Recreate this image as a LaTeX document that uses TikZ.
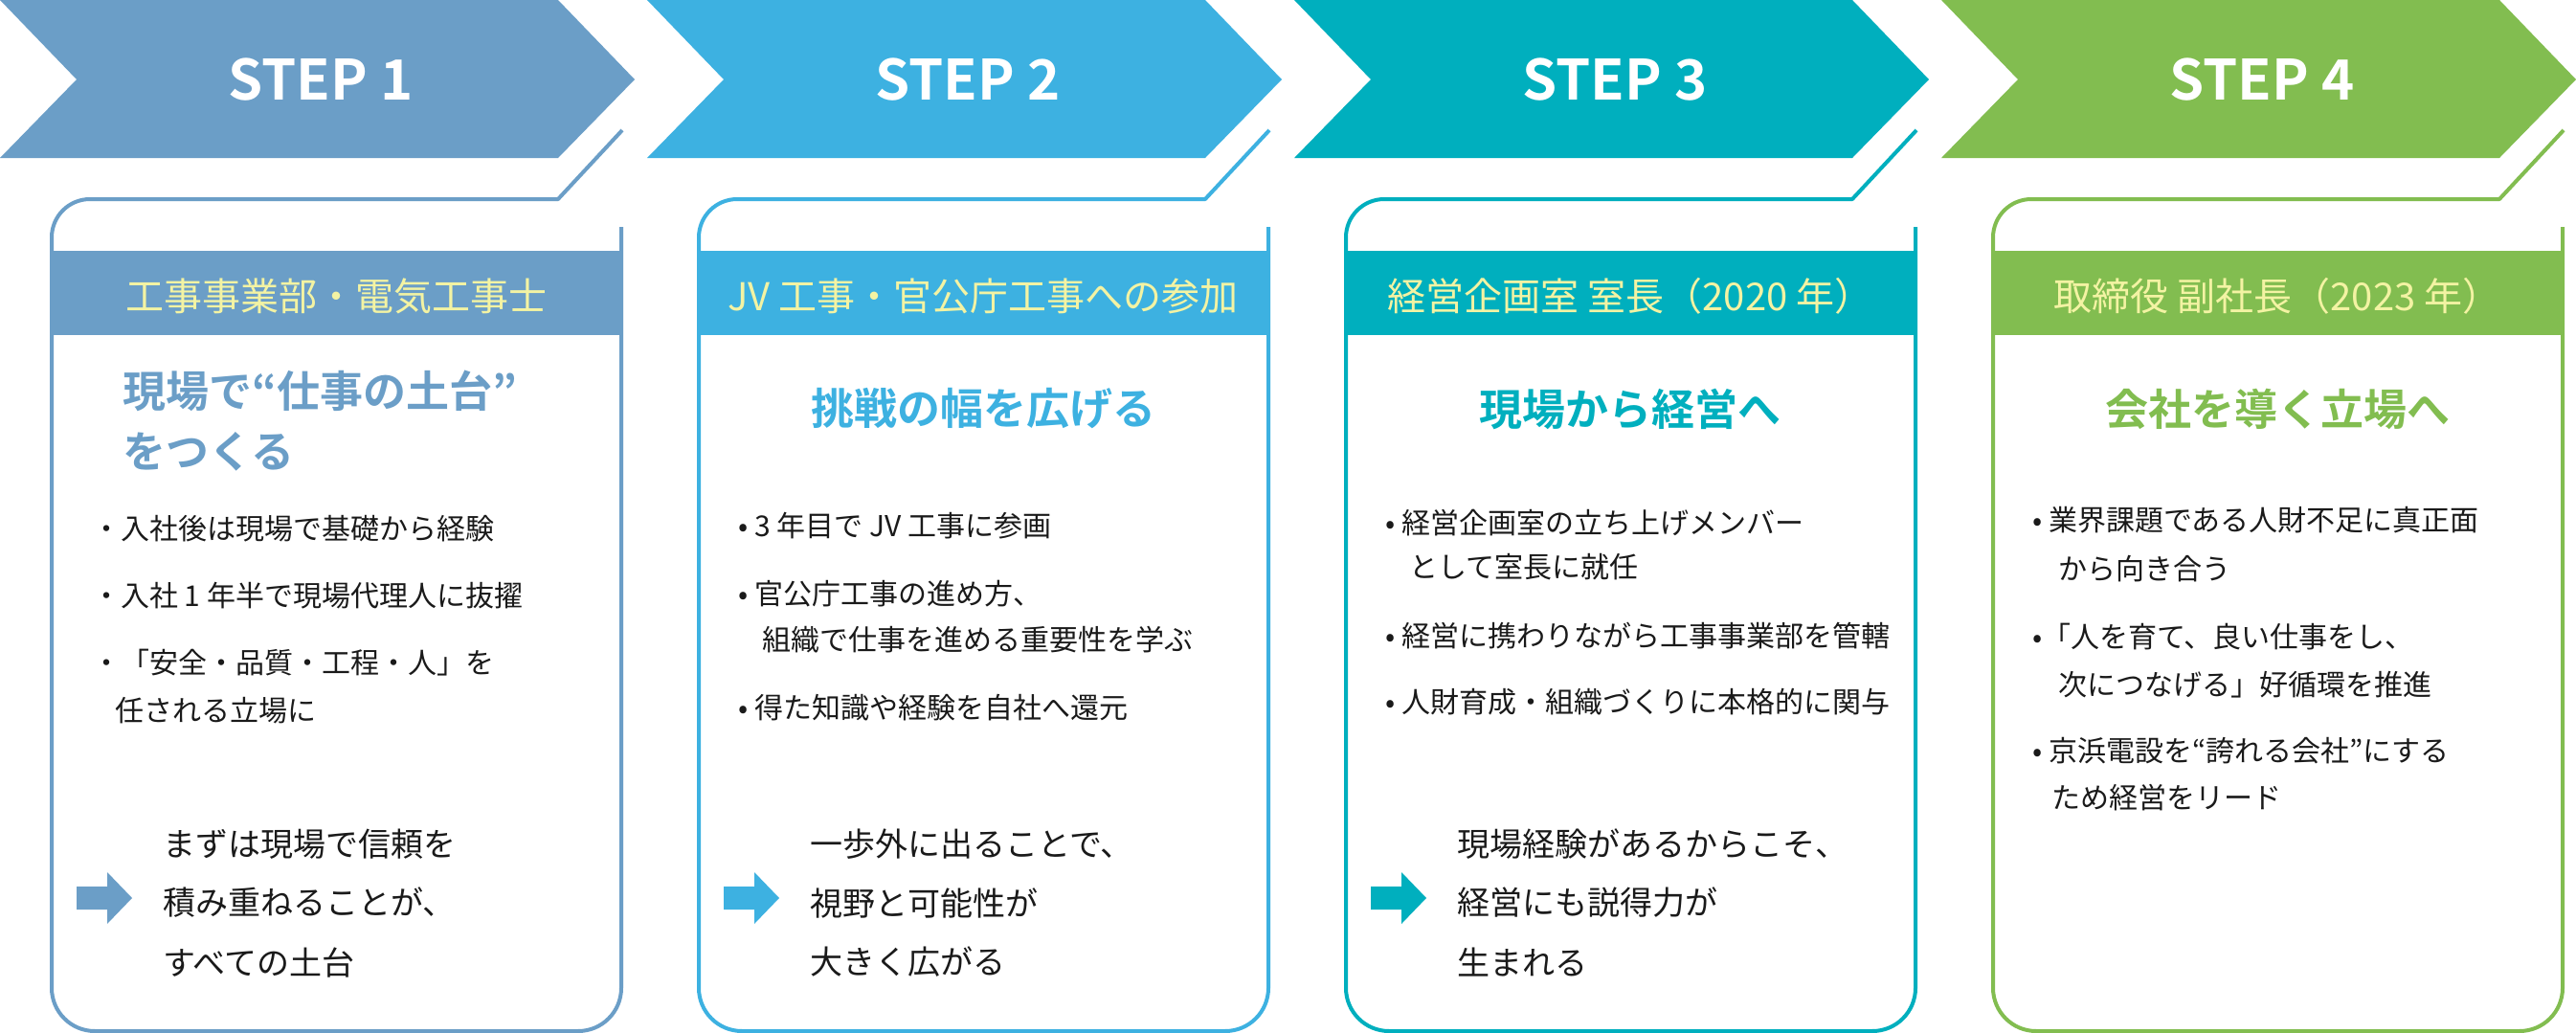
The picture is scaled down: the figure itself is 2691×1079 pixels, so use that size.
\documentclass[tikz,border=0pt]{standalone}
\usepackage{fontspec}
\setmainfont{Noto Sans CJK JP}[BoldFont={Noto Sans CJK JP Bold}]
\definecolor{cA}{HTML}{6B9EC7}
\definecolor{cB}{HTML}{3DB1E1}
\definecolor{cC}{HTML}{00AFBE}
\definecolor{cD}{HTML}{82BD50}
\definecolor{hy}{HTML}{F3F3A3}
\definecolor{tx}{HTML}{1A1A1A}
\begin{document}
\begin{tikzpicture}[x=1pt,y=-1pt,
  chev/.style={fill=#1,draw=none},
  steplbl/.style={font=\fontsize{58}{60}\selectfont\bfseries,text=white,inner sep=0},
  card/.style={draw=#1,line width=4pt,line join=round},
  head/.style={font=\fontsize{40}{44}\selectfont,text=hy,inner sep=0},
  ttl/.style={font=\fontsize{45}{50}\selectfont\bfseries,text=#1,inner sep=0},
  bul/.style={font=\fontsize{30}{34}\selectfont,text=tx,inner sep=0,anchor=west},
  fin/.style={font=\fontsize{34}{38}\selectfont,text=tx,inner sep=0,anchor=west},
  arr/.style={fill=#1,draw=none}]
\useasboundingbox (0,0) rectangle (2691,1079);
\fill[white] (0,0) rectangle (2691,1079);

\newcommand{\stepframe}[3]{%
\begin{scope}[xshift=#1]
\fill[chev=#2] (0,0) -- (583,0) -- (663,83) -- (583,165) -- (0,165) -- (80,83) -- cycle;
\node[steplbl] (s#3) at (335,83) {STEP #3};
\fill[#2] (54,262) rectangle (649,350);
\draw[card=#2] (649,237) -- (649,1032) arc[start angle=0,end angle=90,radius=45] -- (99,1077)
  arc[start angle=90,end angle=180,radius=45] -- (54,248) arc[start angle=180,end angle=270,radius=40]
  -- (583,208) -- (650,136);
\end{scope}}
\newcommand{\steparrow}[2]{%
\begin{scope}[xshift=#1]
\fill[arr=#2] (80,926) -- (112,926) -- (112,911) -- (138,938) -- (112,965) -- (112,950) -- (80,950) -- cycle;
\end{scope}}

\stepframe{0}{cA}{1}
\stepframe{676}{cB}{2}
\stepframe{1352}{cC}{3}
\stepframe{2028}{cD}{4}
\steparrow{0}{cA}\steparrow{676}{cB}\steparrow{1352}{cC}

% Step 1
\node[head] (h1) at (351,309) {工事事業部・電気工事士};
\node[ttl=cA,anchor=west] (t1a) at (128,408) {現場で“仕事の土台”};
\node[ttl=cA,anchor=west] (t1b) at (128,472) {をつくる};
\node[bul] (b1a) at (96,552) {・入社後は現場で基礎から経験};
\node[bul] (b1b) at (96,622) {・入社 1 年半で現場代理人に抜擢};
\node[bul] (b1c) at (96,692) {・「安全・品質・工程・人」を};
\node[bul] (b1d) at (120,742) {任される立場に};
\node[fin] (f1a) at (170,882) {まずは現場で信頼を};
\node[fin] (f1b) at (170,943) {積み重ねることが、};
\node[fin] (f1c) at (170,1005) {すべての土台};

% Step 2
\node[head] (h2) at (1027,309) {JV 工事・官公庁工事への参加};
\node[ttl=cB] (t2) at (1027,427) {挑戦の幅を広げる};
\node[bul] (b2a) at (771,549) {• 3 年目で JV 工事に参画};
\node[bul] (b2b) at (771,620) {• 官公庁工事の進め方、};
\node[bul] (b2c) at (796,668) {組織で仕事を進める重要性を学ぶ};
\node[bul] (b2d) at (771,739) {• 得た知識や経験を自社へ還元};
\node[fin] (f2a) at (846,882) {一歩外に出ることで、};
\node[fin] (f2b) at (846,943) {視野と可能性が};
\node[fin] (f2c) at (846,1005) {大きく広がる};

% Step 3
\node[head] (h3) at (1703,309) {経営企画室 室長（2020 年）};
\node[ttl=cC] (t3) at (1703,427) {現場から経営へ};
\node[bul] (b3a) at (1447,546) {• 経営企画室の立ち上げメンバー};
\node[bul] (b3b) at (1472,592) {として室長に就任};
\node[bul] (b3c) at (1447,664) {• 経営に携わりながら工事事業部を管轄};
\node[bul] (b3d) at (1447,733) {• 人財育成・組織づくりに本格的に関与};
\node[fin] (f3a) at (1522,882) {現場経験があるからこそ、};
\node[fin] (f3b) at (1522,943) {経営にも説得力が};
\node[fin] (f3c) at (1522,1005) {生まれる};

% Step 4
\node[head] (h4) at (2379,309) {取締役 副社長（2023 年）};
\node[ttl=cD] (t4) at (2379,427) {会社を導く立場へ};
\node[bul] (b4a) at (2123,543) {• 業界課題である人財不足に真正面};
\node[bul] (b4b) at (2150,594) {から向き合う};
\node[bul] (b4c) at (2123,665) {•「人を育て、良い仕事をし、};
\node[bul] (b4d) at (2150,715) {次につなげる」好循環を推進};
\node[bul] (b4e) at (2123,784) {• 京浜電設を“誇れる会社”にする};
\node[bul] (b4f) at (2143,833) {ため経営をリード};
\end{tikzpicture}
\end{document}
